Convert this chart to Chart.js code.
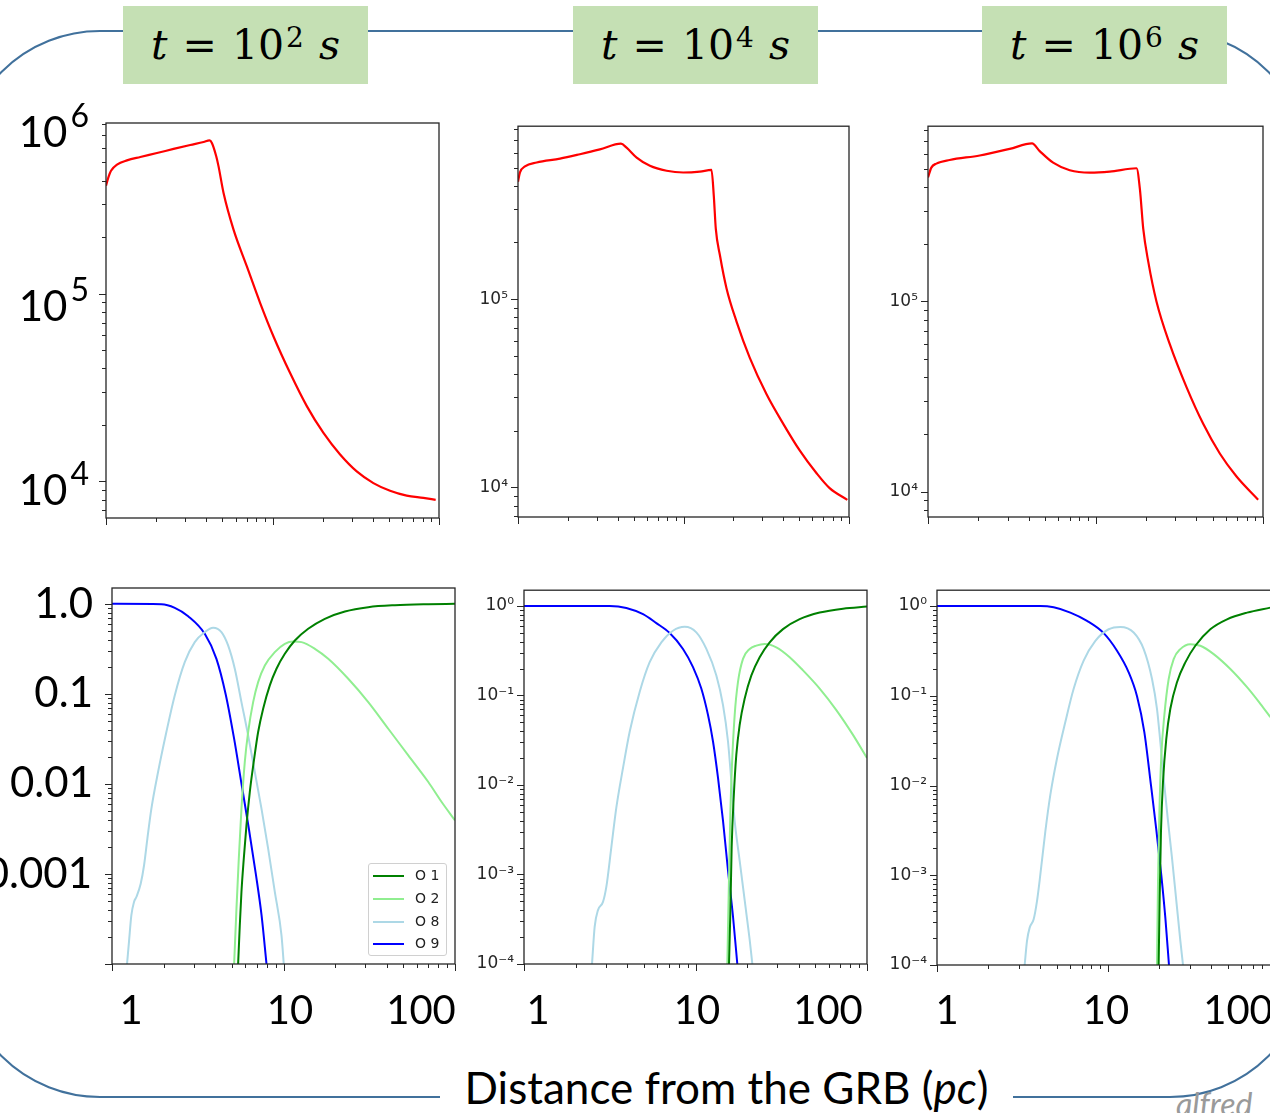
<!DOCTYPE html>
<html><head><meta charset="utf-8">
<script src="https://cdn.jsdelivr.net/npm/chart.js@4.4.1/dist/chart.umd.min.js"></script>
<style>
html,body{margin:0;padding:0;background:#fff;width:1270px;height:1113px;overflow:hidden;position:relative;}
.frame{position:absolute;left:-40px;top:30px;width:1350px;height:1068px;border:2.5px solid #41719C;border-radius:140px;box-sizing:border-box;z-index:0;}
.panel{position:absolute;z-index:1;}
.tbox{position:absolute;top:6px;width:245px;height:78px;background:#C5E0B4;z-index:2;font-family:'DejaVu Serif',serif;font-size:41px;color:#000;display:flex;align-items:center;justify-content:center;white-space:nowrap;}
.tbox .sp{display:inline-block;width:15px;}
.tbox sup{font-size:28px;line-height:0;position:relative;top:-7px;margin-left:2px;}
.big{position:absolute;z-index:2;font-family:Lato,sans-serif;font-size:42px;line-height:42px;color:#000;white-space:nowrap;}
.big sup{font-size:32px;line-height:0;position:relative;top:-5px;margin-left:3px;}
.xl{width:200px;text-align:center;font-size:40px;}
.yl{width:200px;text-align:right;}
.xlabel{position:absolute;z-index:2;left:440px;top:1063px;width:573px;height:48px;background:#fff;font-family:Lato,sans-serif;font-size:44px;line-height:48px;text-align:center;color:#000;white-space:nowrap;}
.legend{position:absolute;z-index:3;left:368px;top:863px;width:79px;height:93px;border:1px solid #d0d0d0;border-radius:3px;background:rgba(255,255,255,0.85);box-sizing:border-box;font-family:'DejaVu Sans',sans-serif;font-size:14px;color:#222;}
.legend .row{position:absolute;left:4px;width:72px;height:20px;line-height:20px;white-space:nowrap;}
.legend .sw{position:absolute;left:0;top:10px;width:31px;height:2px;}
.legend .tx{position:absolute;left:42px;top:0;white-space:nowrap;}
.wm{position:absolute;z-index:2;left:1176px;top:1084px;font-family:Lato,sans-serif;font-style:italic;font-size:32px;color:#9a9a9a;}
</style>
</head>
<body>
<div class="frame"></div>

<div class="tbox" style="left:123px"><i>t</i><span class="sp"></span>=<span class="sp"></span>10<sup>2</sup><span class="sp"></span><i>s</i></div>
<div class="tbox" style="left:573px"><i>t</i><span class="sp"></span>=<span class="sp"></span>10<sup>4</sup><span class="sp"></span><i>s</i></div>
<div class="tbox" style="left:982px"><i>t</i><span class="sp"></span>=<span class="sp"></span>10<sup>6</sup><span class="sp"></span><i>s</i></div>

<div class="big yl" style="left:-111px;top:110px">10<sup>6</sup></div>
<div class="big yl" style="left:-111px;top:284px">10<sup>5</sup></div>
<div class="big yl" style="left:-111px;top:468px">10<sup>4</sup></div>

<div class="big yl" style="left:-107px;top:581px">1.0</div>
<div class="big yl" style="left:-107px;top:670px">0.1</div>
<div class="big yl" style="left:-107px;top:760px">0.01</div>
<div class="big yl" style="left:-108px;top:851px">0.001</div>

<div class="big xl" style="left:31px;top:988px">1</div>
<div class="big xl" style="left:190px;top:988px">10</div>
<div class="big xl" style="left:321px;top:988px">100</div>
<div class="big xl" style="left:438px;top:988px">1</div>
<div class="big xl" style="left:597px;top:988px">10</div>
<div class="big xl" style="left:728px;top:988px">100</div>
<div class="big xl" style="left:847px;top:988px">1</div>
<div class="big xl" style="left:1006px;top:988px">10</div>
<div class="big xl" style="left:1138px;top:988px">100</div>

<div class="xlabel">Distance from the GRB (<i>pc</i>)</div>
<div class="wm">alfred</div>

<div class="legend">
  <div class="row" style="top:1px"><div class="sw" style="background:#008000"></div><span class="tx">O 1</span></div>
  <div class="row" style="top:24px"><div class="sw" style="background:#90ee90"></div><span class="tx">O 2</span></div>
  <div class="row" style="top:47px"><div class="sw" style="background:#add8e6"></div><span class="tx">O 8</span></div>
  <div class="row" style="top:69px"><div class="sw" style="background:#0000ff"></div><span class="tx">O 9</span></div>
</div>

<script>
// ---------------- DATA ----------------
// Top row: red curve, distance (pc) vs value
const X_T1 = [1.00,1.038,1.072,1.164,1.337,1.607,2.023,2.547,3.206,3.855,4.188,4.325,4.592,4.742,5.082,5.834,7.015,8.433,10.14,12.76,16.07,20.23,25.47,32.06,40.36,50.82,63.97,80.54,95.5];
const Y_T1 = [375800,421700,451900,486400,512900,534600,561000,590200,619400,642700,656100,635300,539500,476400,343600,219300,139600,89130,59160,37760,25180,18110,13900,11300,9795,8913,8395,8166,7980];

const X_T2 = [1.00,1.028,1.102,1.297,1.795,2.366,3.126,4.188,4.529,5.212,6.266,7.907,9.954,12.56,14.76,15.24,15.67,16.60,18.20,20.89,25.12,31.70,39.99,50.35,63.53,76.38,97.72];
const Y_T2 = [421000,471000,507000,532000,558000,589000,625000,670000,638000,565000,511000,481000,471000,476000,486000,355000,237000,171000,114000,76200,48900,31300,21800,15700,11900,9890,8570];

const X_T3 = [1.00,1.047,1.122,1.346,2.037,3.076,4.178,4.645,5.585,7.015,9.247,12.16,17.58,18.41,19.28,20.65,23.12,27.80,34.99,43.95,55.34,69.50,93.54];
const Y_T3 = [449000,506000,531000,555000,586000,635000,678000,618000,537000,490000,476000,482000,502000,390000,241000,162000,100000,59400,35300,22700,15800,12000,9060];

// Bottom row, t = 1e2 s
const X_B1_O1 = [5.437,5.561,5.686,5.867,6.081,6.360,6.745,7.114,7.609,8.322,9.101,10.18,11.65,13.93,17.42,22.80,31.20,44.66,69.88,100];
const Y_B1_O1 = [0.0000993,0.000269,0.000631,0.00148,0.00347,0.00813,0.01905,0.0377,0.0684,0.1242,0.1901,0.2786,0.3917,0.5284,0.6823,0.8222,0.9183,0.9661,0.9908,1.0];
const X_B1_O2 = [5.153,5.318,5.487,5.686,5.946,6.220,6.653,7.114,7.784,8.899,10.18,11.39,12.74,15.24,18.23,23.85,31.20,40.82,53.41,69.88,83.59,100];
const Y_B1_O2 = [0.0000993,0.000412,0.00148,0.00531,0.0175,0.0377,0.0811,0.1352,0.2070,0.2911,0.3597,0.3819,0.3758,0.3170,0.2455,0.1472,0.0811,0.0410,0.02075,0.0105,0.0063,0.00394];
const X_B1_O8 = [1.223,1.256,1.297,1.344,1.387,1.470,1.538,1.608,1.697,1.856,2.075,2.322,2.656,3.038,3.474,3.887,4.346,4.753,5.200,5.686,6.220,6.803,7.440,8.137,8.899,9.734,10.04];
const Y_B1_O8 = [0.0000993,0.000176,0.000348,0.000489,0.000555,0.00078,0.00125,0.00247,0.00531,0.01355,0.0377,0.0962,0.2254,0.3758,0.4853,0.5420,0.4853,0.3451,0.1901,0.0811,0.0346,0.01355,0.00531,0.00191,0.000631,0.000208,0.0000993];
const X_B1_O9 = [1.0,1.941,2.323,2.780,3.475,4.064,4.603,5.152,5.689,6.281,6.902,7.447,7.962];
const Y_B1_O9 = [1.0,0.991,0.904,0.730,0.465,0.245,0.0986,0.0318,0.01005,0.00318,0.00099,0.000348,0.0000993];

// Bottom row, t = 1e4 s
const X_B2_O1 = [15.68,15.96,16.25,16.70,17.30,18.09,19.36,21.17,23.67,27.07,32.37,40.50,52.97,72.46,100];
const Y_B2_O1 = [0.0001,0.000367,0.00201,0.00721,0.0218,0.0468,0.0925,0.1675,0.2679,0.3926,0.5508,0.7112,0.8433,0.9333,0.9840];
const X_B2_O2 = [15.33,15.67,15.96,16.32,16.92,17.69,18.92,20.70,22.63,25.32,29.60,35.41,42.35,52.97,66.25,82.86,100];
const Y_B2_O2 = [0.0001,0.000859,0.00471,0.01687,0.0604,0.1416,0.2564,0.3311,0.3606,0.3758,0.3451,0.2679,0.1905,0.1194,0.0687,0.0363,0.0200];
const X_B2_O8 = [2.492,2.583,2.701,2.888,3.020,3.230,3.454,3.779,4.132,4.725,5.405,6.322,7.391,8.647,10.11,11.57,13.23,14.47,15.47,16.18,16.92,18.09,19.35,20.70,21.45];
const Y_B2_O8 = [0.0001,0.000261,0.000400,0.000494,0.000726,0.00201,0.00558,0.0155,0.0394,0.1096,0.2355,0.3926,0.5284,0.5848,0.5070,0.3311,0.1675,0.0780,0.0306,0.01102,0.00397,0.00143,0.000516,0.000186,0.0001];
const X_B2_O9 = [1.0,3.159,3.952,4.943,5.911,7.069,8.455,9.670,10.81,11.83,12.65,13.53,14.47,15.47,16.55,17.53];
const Y_B2_O9 = [1.0,1.0,0.951,0.809,0.643,0.498,0.3311,0.2075,0.1194,0.0604,0.0306,0.0120,0.00397,0.00111,0.000337,0.0001];

// Bottom row, t = 1e6 s
const X_B3_O1 = [19.78,20.05,20.41,20.97,21.93,23.15,25.32,28.33,32.41,39.66,49.66,65.02,88.98];
const Y_B3_O1 = [0.0001,0.000562,0.00308,0.01102,0.0333,0.0716,0.1416,0.2355,0.3606,0.5508,0.7112,0.8433,0.9594];
const X_B3_O2 = [19.34,19.61,19.96,20.51,21.35,22.64,24.21,26.49,30.30,34.67,41.49,51.93,65.02,77.78,88.98];
const Y_B3_O2 = [0.0001,0.000859,0.00471,0.0218,0.0604,0.1538,0.2564,0.3311,0.3758,0.3606,0.2911,0.1986,0.1245,0.0813,0.0579];
const X_B3_O8 = [3.256,3.360,3.483,3.675,3.844,4.022,4.301,4.600,5.032,5.629,6.298,7.205,8.434,10.09,11.81,14.13,16.17,18.09,19.34,20.23,21.16,22.34,23.67,25.10,26.49,27.46];
const Y_B3_O8 = [0.0001,0.000186,0.000261,0.000324,0.000516,0.00102,0.00308,0.00785,0.0200,0.0509,0.1194,0.2460,0.4093,0.5508,0.5848,0.5070,0.3311,0.1538,0.0716,0.0306,0.0120,0.00433,0.00156,0.000516,0.000186,0.0001];
const X_B3_O9 = [1.0,4.022,4.813,6.023,7.538,9.435,11.29,13.21,14.78,16.31,17.85,19.17,20.51,21.64,22.73];
const Y_B3_O9 = [1.0,1.0,0.966,0.843,0.682,0.498,0.317,0.1824,0.0989,0.0394,0.00995,0.00321,0.000993,0.000337,0.0001];

// axis limits
const X_RANGE = [1, 100];
const Y_TOP_RANGES = [[6383, 811000],[6950, 829800],[7345, 835600]];
const Y_BOT_RANGE = [1e-4, 1.5];
const SERIES_NAMES = ['O 1','O 2','O 8','O 9'];
const SERIES_COLORS = ['#008000','#90ee90','#add8e6','#0000ff'];

// --------------- helpers ---------------
const pts = (xs, ys) => xs.map((x, i) => ({x: x, y: ys[i]}));
const SUP = {'0':'⁰','1':'¹','2':'²','3':'³','4':'⁴','5':'⁵','6':'⁶','7':'⁷','8':'⁸','9':'⁹','-':'⁻'};
function mant(v){ const e = Math.floor(Math.log10(v) + 1e-9); return {e: e, m: v / Math.pow(10, e)}; }
function isNice(v){ const r = mant(v); return Math.abs(r.m - Math.round(r.m)) < 1e-6; }
function isPow10(v){ const r = mant(v); return Math.abs(r.m - 1) < 1e-6; }
function powLabel(v){
  if (!isPow10(v)) return '';
  const e = mant(v).e;
  return '10' + String(e).split('').map(c => SUP[c]).join('');
}
function filterTicks(scale){
  const lo = scale.min * (1 - 1e-9), hi = scale.max * (1 + 1e-9);
  scale.ticks = scale.ticks.filter(t => isNice(t.value) && t.value >= lo && t.value <= hi);
}

const framePlugin = {
  id: 'mplFrame',
  afterDraw(chart){
    const ctx = chart.ctx, a = chart.chartArea, xs = chart.scales.x, ys = chart.scales.y;
    ctx.save();
    ctx.strokeStyle = '#262626';
    ctx.lineWidth = 1;
    ctx.beginPath();
    for (const t of xs.ticks){
      const p = Math.round(xs.getPixelForValue(t.value)) + 0.5;
      const len = isPow10(t.value) ? 7 : 4;
      ctx.moveTo(p, a.bottom); ctx.lineTo(p, a.bottom + len);
    }
    for (const t of ys.ticks){
      const p = Math.round(ys.getPixelForValue(t.value)) + 0.5;
      const len = isPow10(t.value) ? 7 : 4;
      ctx.moveTo(a.left, p); ctx.lineTo(a.left - len, p);
    }
    ctx.stroke();
    ctx.lineWidth = 1.3;
    ctx.strokeRect(a.left, a.top, a.right - a.left, a.bottom - a.top);
    ctx.restore();
  }
};

function makePanel(L, T, W, H, datasets, yr, showY){
  const div = document.createElement('div');
  div.className = 'panel';
  div.style.left = (L - 70) + 'px';
  div.style.top = (T - 10) + 'px';
  div.style.width = (W + 80) + 'px';
  div.style.height = (H + 40) + 'px';
  const cv = document.createElement('canvas');
  div.appendChild(cv);
  document.body.appendChild(div);
  new Chart(cv, {
    type: 'line',
    data: {datasets: datasets},
    options: {
      responsive: true, maintainAspectRatio: false, animation: false,
      layout: {padding: {left: 0, top: 10, right: 10, bottom: 0}},
      plugins: {legend: {display: false}, tooltip: {enabled: false}, title: {display: false}},
      elements: {point: {radius: 0}, line: {borderWidth: 2, cubicInterpolationMode: 'monotone'}},
      scales: {
        x: {type: 'logarithmic', position: 'bottom', min: X_RANGE[0], max: X_RANGE[1],
            afterFit: s => { s.height = 30; }, afterBuildTicks: filterTicks,
            grid: {display: false, drawTicks: true, tickLength: 7}, border: {display: false},
            ticks: {display: false, autoSkip: false}},
        y: {type: 'logarithmic', position: 'left', min: yr[0], max: yr[1],
            afterFit: s => { s.width = 70; }, afterBuildTicks: filterTicks,
            grid: {display: false, drawTicks: true, tickLength: 7}, border: {display: false},
            ticks: {display: showY, autoSkip: false, padding: 3, color: '#262626',
                    font: {family: 'DejaVu Sans', size: 17}, callback: v => powLabel(v)}}
      }
    },
    plugins: [framePlugin]
  });
}

function redSet(xs, ys){
  return [{label: 'T', data: pts(xs, ys), borderColor: '#ff0000', borderWidth: 2.2, fill: false}];
}
function ionSets(list){
  return list.map((s, i) => ({label: SERIES_NAMES[i], data: pts(s[0], s[1]), borderColor: SERIES_COLORS[i], borderWidth: 2, fill: false}));
}

makePanel(106, 123, 333, 395, redSet(X_T1, Y_T1), Y_TOP_RANGES[0], false);
makePanel(518, 123, 331, 394, redSet(X_T2, Y_T2), Y_TOP_RANGES[1], true);
makePanel(928, 123, 335, 394, redSet(X_T3, Y_T3), Y_TOP_RANGES[2], true);

makePanel(112, 588, 343, 376, ionSets([[X_B1_O1,Y_B1_O1],[X_B1_O2,Y_B1_O2],[X_B1_O8,Y_B1_O8],[X_B1_O9,Y_B1_O9]]), Y_BOT_RANGE, false);
makePanel(524, 587, 343, 377, ionSets([[X_B2_O1,Y_B2_O1],[X_B2_O2,Y_B2_O2],[X_B2_O8,Y_B2_O8],[X_B2_O9,Y_B2_O9]]), Y_BOT_RANGE, true);
makePanel(937, 587, 342, 378, ionSets([[X_B3_O1,Y_B3_O1],[X_B3_O2,Y_B3_O2],[X_B3_O8,Y_B3_O8],[X_B3_O9,Y_B3_O9]]), Y_BOT_RANGE, true);
</script>
</body></html>
